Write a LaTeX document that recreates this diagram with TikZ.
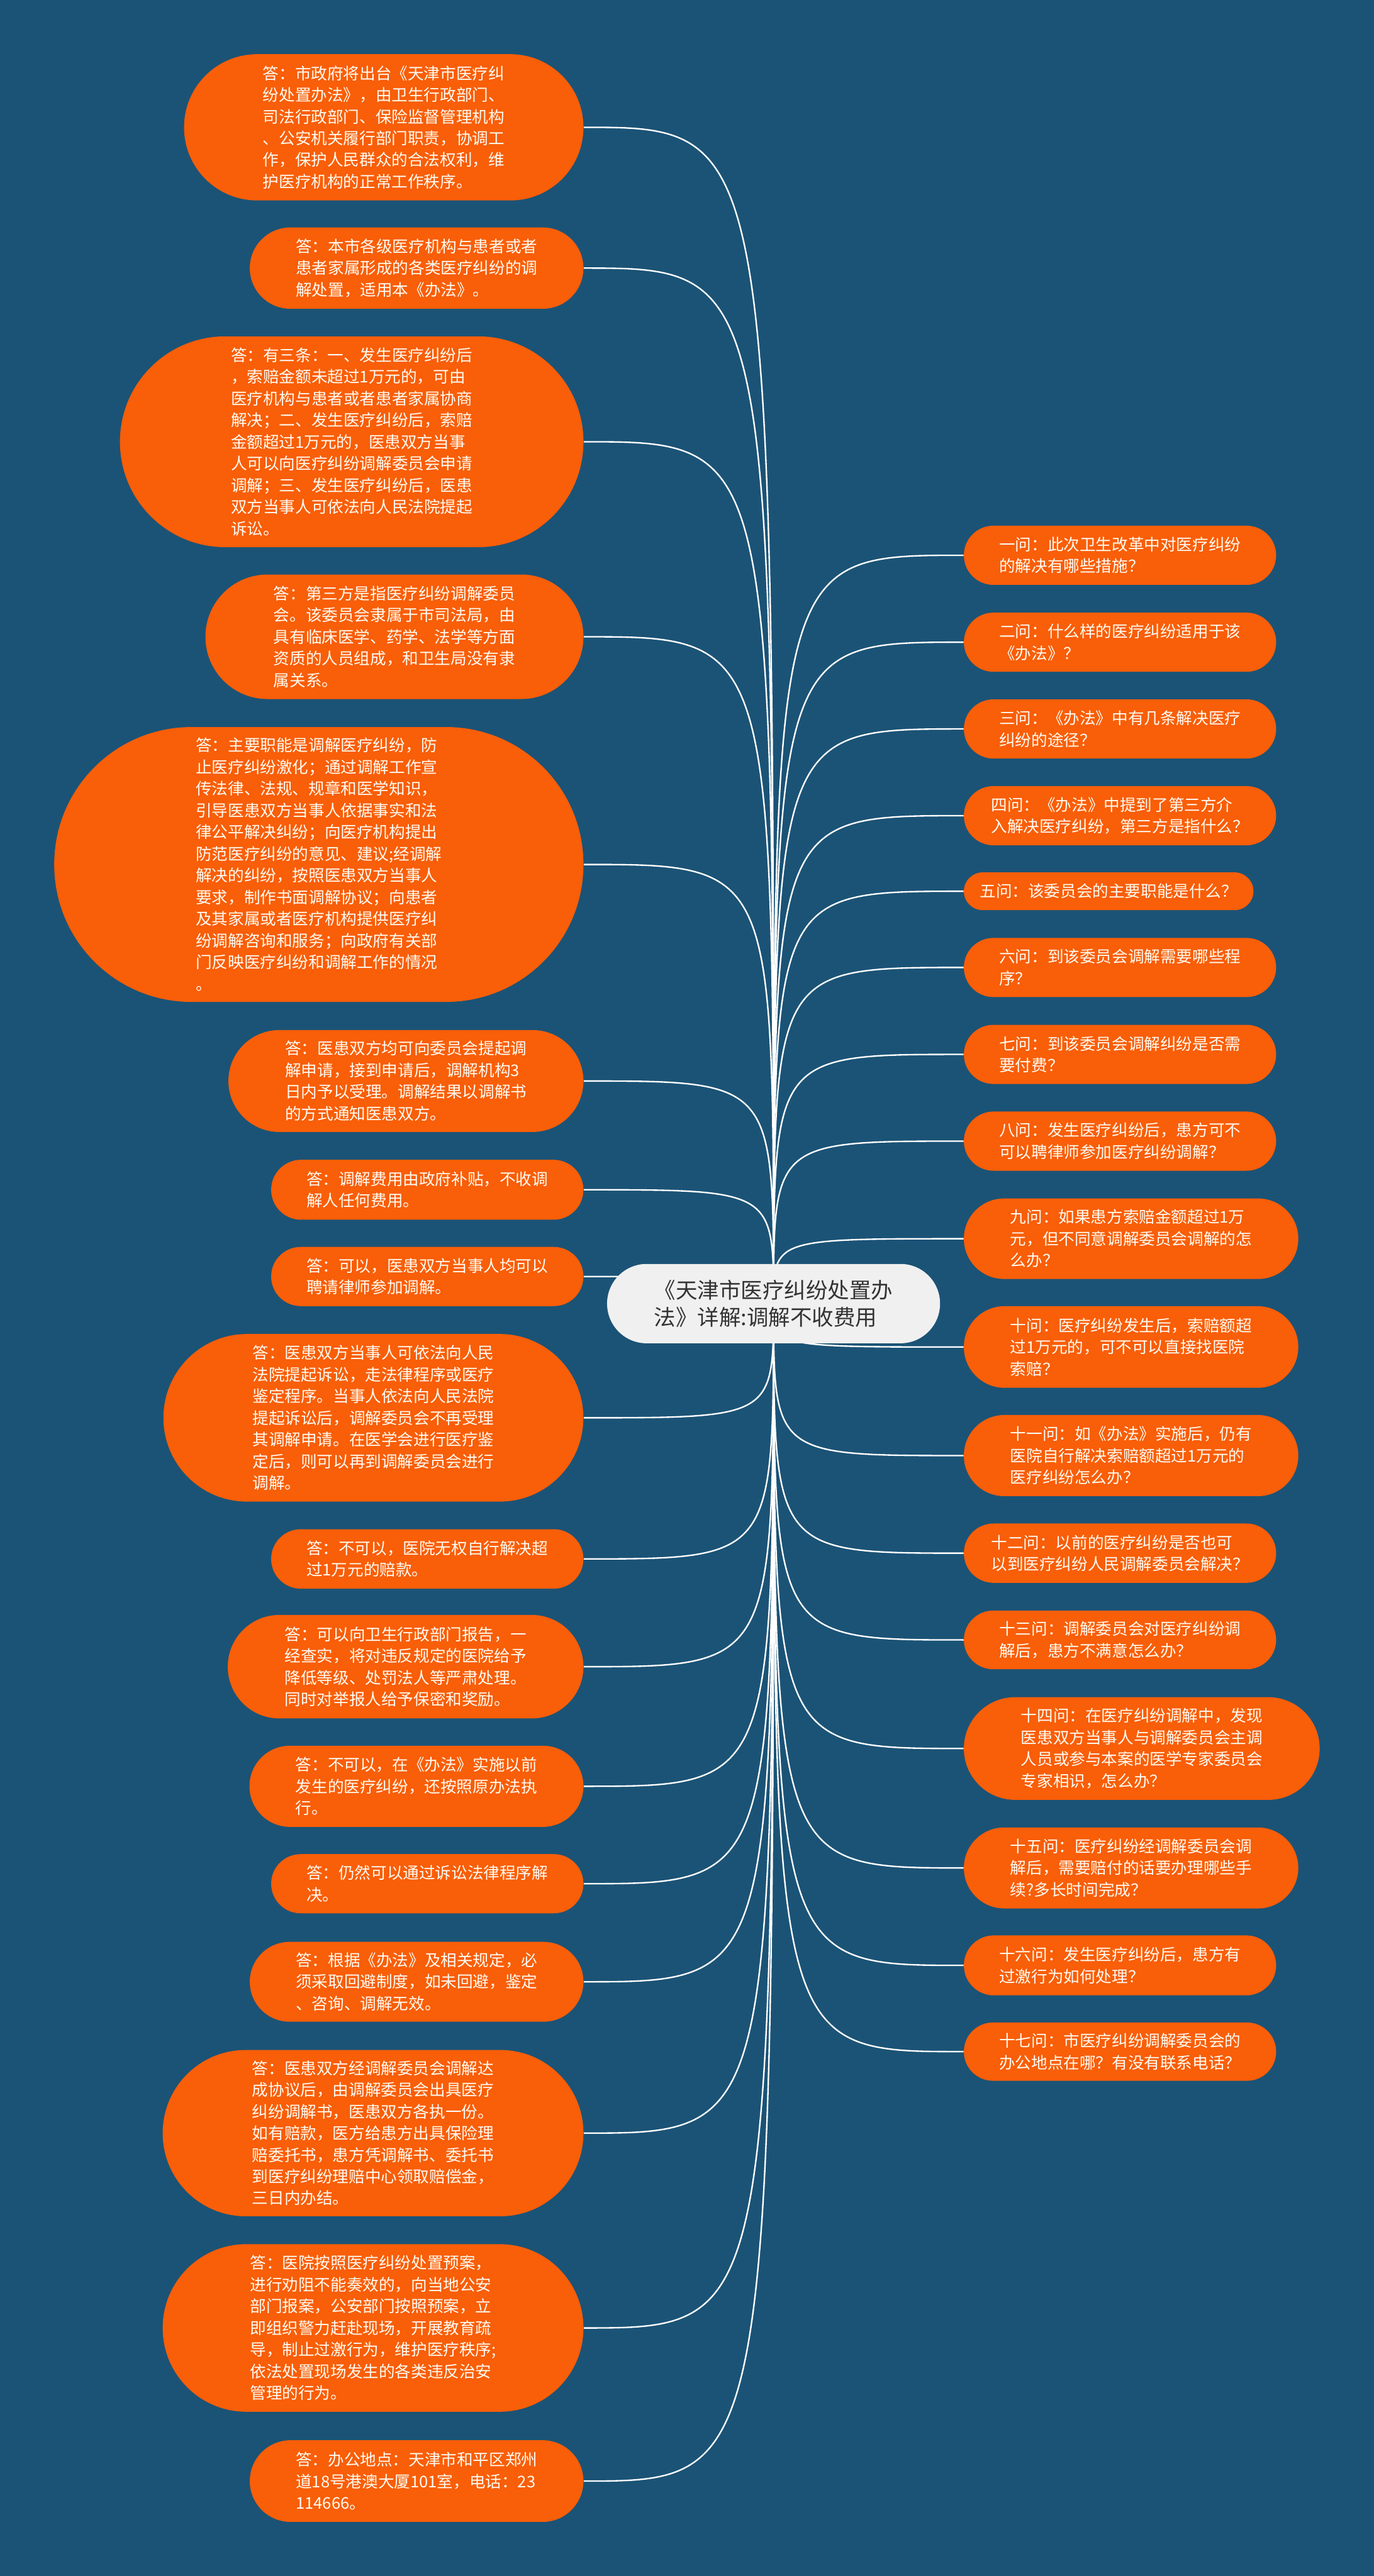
\documentclass[tikz,border=0pt]{standalone}
\usepackage{fontspec}
\newfontfamily\cjk{Noto Sans CJK SC}
\pgfdeclarelayer{back}
\pgfdeclarelayer{edges}
\pgfsetlayers{back,edges,main}
\definecolor{bgc}{RGB}{27,83,118}
\definecolor{nodeor}{RGB}{249,94,8}
\definecolor{rootfill}{RGB}{240,240,240}
\definecolor{roottext}{RGB}{51,51,51}
\definecolor{txtc}{RGB}{255,252,242}
\tikzset{
  pill/.style 2 args={minimum width=#1pt, minimum height=#2pt, rounded corners=#2pt*0.499},
  ans/.style={fill=nodeor, text=txtc, font=\cjk\fontsize{9.8}{13.2}\selectfont, align=left, inner sep=0pt},
  rootbox/.style={fill=rootfill, text=roottext, font=\cjk\fontsize{13.2}{16.8}\selectfont, align=left, inner sep=0pt},
  conn/.style={draw=white, line width=0.9pt}
}
\begin{document}
\begin{tikzpicture}[x=1pt,y=-1pt]
\begin{pgfonlayer}{back}
\fill[bgc] (0,0) rectangle (836,1568);
\end{pgfonlayer}
\useasboundingbox (0,0) rectangle (836,1568);

% root
\node[rootbox, pill={202.6}{48.3}] (root) at (470.7,793.5) {《天津市医疗纠纷处置办\\法》详解:调解不收费用};

% left answers
\node[ans, pill={243}{89}] (a1) at (233.5,77.5) {答：市政府将出台《天津市医疗纠\\纷处置办法》，由卫生行政部门、\\司法行政部门、保险监督管理机构\\、公安机关履行部门职责，协调工\\作，保护人民群众的合法权利，维\\护医疗机构的正常工作秩序。};
\node[ans, pill={203}{49.5}] (a2) at (253.5,163.2) {答：本市各级医疗机构与患者或者\\患者家属形成的各类医疗纠纷的调\\解处置，适用本《办法》。};
\node[ans, pill={282}{128.3}] (a3) at (214,268.9) {答：有三条：一、发生医疗纠纷后\\，索赔金额未超过1万元的，可由\\医疗机构与患者或者患者家属协商\\解决；二、发生医疗纠纷后，索赔\\金额超过1万元的，医患双方当事\\人可以向医疗纠纷调解委员会申请\\调解；三、发生医疗纠纷后，医患\\双方当事人可依法向人民法院提起\\诉讼。};
\node[ans, pill={230}{75.8}] (a4) at (240,387.6) {答：第三方是指医疗纠纷调解委员\\会。该委员会隶属于市司法局，由\\具有临床医学、药学、法学等方面\\资质的人员组成，和卫生局没有隶\\属关系。};
\node[ans, pill={322}{167.3}] (a5) at (194,526.2) {答：主要职能是调解医疗纠纷，防\\止医疗纠纷激化；通过调解工作宣\\传法律、法规、规章和医学知识，\\引导医患双方当事人依据事实和法\\律公平解决纠纷；向医疗机构提出\\防范医疗纠纷的意见、建议;经调解\\解决的纠纷，按照医患双方当事人\\要求，制作书面调解协议；向患者\\及其家属或者医疗机构提供医疗纠\\纷调解咨询和服务；向政府有关部\\门反映医疗纠纷和调解工作的情况\\。};
\node[ans, pill={216}{62}] (a6) at (247,658) {答：医患双方均可向委员会提起调\\解申请，接到申请后，调解机构3\\日内予以受理。调解结果以调解书\\的方式通知医患双方。};
\node[ans, pill={190}{36.5}] (a7) at (260,724.2) {答：调解费用由政府补贴，不收调\\解人任何费用。};
\node[ans, pill={190}{36}] (a8) at (260,777) {答：可以，医患双方当事人均可以\\聘请律师参加调解。};
\node[ans, pill={255.5}{102}] (a9) at (227.2,863) {答：医患双方当事人可依法向人民\\法院提起诉讼，走法律程序或医疗\\鉴定程序。当事人依法向人民法院\\提起诉讼后，调解委员会不再受理\\其调解申请。在医学会进行医疗鉴\\定后，则可以再到调解委员会进行\\调解。};
\node[ans, pill={190}{36.2}] (a10) at (260,948.9) {答：不可以，医院无权自行解决超\\过1万元的赔款。};
\node[ans, pill={216.4}{63}] (a11) at (246.8,1014.5) {答：可以向卫生行政部门报告，一\\经查实，将对违反规定的医院给予\\降低等级、处罚法人等严肃处理。\\同时对举报人给予保密和奖励。};
\node[ans, pill={203.2}{49.4}] (a12) at (253.4,1087.3) {答：不可以，在《办法》实施以前\\发生的医疗纠纷，还按照原办法执\\行。};
\node[ans, pill={190}{36}] (a13) at (260,1146.6) {答：仍然可以通过诉讼法律程序解\\决。};
\node[ans, pill={203}{48.6}] (a14) at (253.5,1206.3) {答：根据《办法》及相关规定，必\\须采取回避制度，如未回避，鉴定\\、咨询、调解无效。};
\node[ans, pill={256}{101.2}] (a15) at (227,1298.4) {答：医患双方经调解委员会调解达\\成协议后，由调解委员会出具医疗\\纠纷调解书，医患双方各执一份。\\如有赔款，医方给患方出具保险理\\赔委托书，患方凭调解书、委托书\\到医疗纠纷理赔中心领取赔偿金，\\三日内办结。};
\node[ans, pill={256}{102}] (a16) at (227,1417) {答：医院按照医疗纠纷处置预案，\\进行劝阻不能奏效的，向当地公安\\部门报案，公安部门按照预案，立\\即组织警力赶赴现场，开展教育疏\\导，制止过激行为，维护医疗秩序;\\依法处置现场发生的各类违反治安\\管理的行为。};
\node[ans, pill={203}{49.7}] (a17) at (253.5,1510.2) {答：办公地点：天津市和平区郑州\\道18号港澳大厦101室，电话：23\\114666。};

% right questions
\node[ans, pill={190}{36}] (q1) at (681.5,338) {一问：此次卫生改革中对医疗纠纷\\的解决有哪些措施？};
\node[ans, pill={190}{36}] (q2) at (681.5,390.9) {二问：什么样的医疗纠纷适用于该\\《办法》？};
\node[ans, pill={190}{36}] (q3) at (681.5,443.7) {三问：《办法》中有几条解决医疗\\纠纷的途径？};
\node[ans, pill={190}{36}] (q4) at (681.5,496.5) {四问：《办法》中提到了第三方介\\入解决医疗纠纷，第三方是指什么？};
\node[ans, pill={176.2}{23}] (q5) at (674.6,542.5) {五问：该委员会的主要职能是什么？};
\node[ans, pill={190}{36}] (q6) at (681.5,588.9) {六问：到该委员会调解需要哪些程\\序？};
\node[ans, pill={190}{36}] (q7) at (681.5,641.8) {七问：到该委员会调解纠纷是否需\\要付费？};
\node[ans, pill={190}{36}] (q8) at (681.5,694.6) {八问：发生医疗纠纷后，患方可不\\可以聘律师参加医疗纠纷调解？};
\node[ans, pill={203.5}{49}] (q9) at (688.25,754) {九问：如果患方索赔金额超过1万\\元，但不同意调解委员会调解的怎\\么办？};
\node[ans, pill={203.5}{49.7}] (q10) at (688.25,819.9) {十问：医疗纠纷发生后，索赔额超\\过1万元的，可不可以直接找医院\\索赔？};
\node[ans, pill={203.5}{49.4}] (q11) at (688.25,886) {十一问：如《办法》实施后，仍有\\医院自行解决索赔额超过1万元的\\医疗纠纷怎么办？};
\node[ans, pill={190}{36.1}] (q12) at (681.5,945.4) {十二问：以前的医疗纠纷是否也可\\以到医疗纠纷人民调解委员会解决？};
\node[ans, pill={190}{35.7}] (q13) at (681.5,998.2) {十三问：调解委员会对医疗纠纷调\\解后，患方不满意怎么办？};
\node[ans, pill={216.5}{62.5}] (q14) at (694.75,1064.3) {十四问：在医疗纠纷调解中，发现\\医患双方当事人与调解委员会主调\\人员或参与本案的医学专家委员会\\专家相识，怎么办？};
\node[ans, pill={203.5}{49.3}] (q15) at (688.25,1137) {十五问：医疗纠纷经调解委员会调\\解后，需要赔付的话要办理哪些手\\续?多长时间完成？};
\node[ans, pill={190}{36.5}] (q16) at (681.5,1196.3) {十六问：发生医疗纠纷后，患方有\\过激行为如何处理？};
\node[ans, pill={190}{35.5}] (q17) at (681.5,1248.8) {十七问：市医疗纠纷调解委员会的\\办公地点在哪？有没有联系电话？};

% connectors
\begin{pgfonlayer}{edges}
\foreach \i in {1,...,17} {
  \draw[conn] (root.center) .. controls (root.center |- a\i.east) .. (a\i.east);
  \draw[conn] (root.center) .. controls (root.center |- q\i.west) .. (q\i.west);
}
\end{pgfonlayer}
\end{tikzpicture}
\end{document}
